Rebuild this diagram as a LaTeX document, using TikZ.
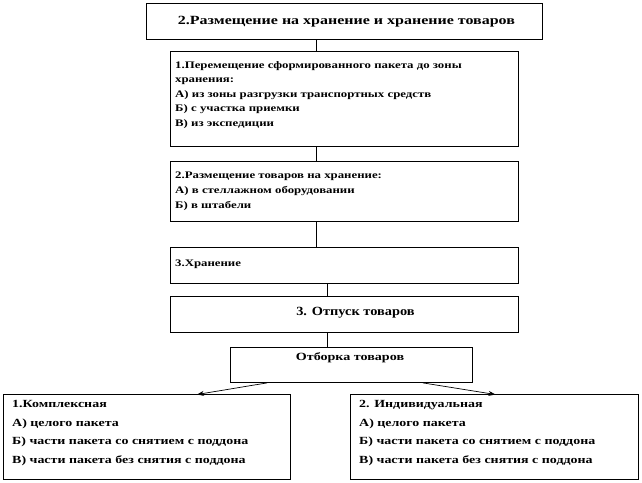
\documentclass[tikz,border=0pt]{standalone}
\usepackage{fontspec}
\setmainfont[FakeStretch=1.28]{Liberation Serif}
\newfontfamily\widerfont[FakeStretch=1.15]{Liberation Serif}
\usetikzlibrary{calc,arrows.meta}
\begin{document}
\begin{tikzpicture}[x=1pt,y=1pt,
  box/.style={draw=black, line width=0.9pt, rectangle, inner sep=0pt, anchor=north west},
  txt/.style={inner sep=0pt, anchor=north west, align=left, font=\bfseries\fontsize{10}{14.6}\selectfont},
  bigtxt/.style={inner sep=0pt, anchor=center, font=\bfseries\fontsize{12.5}{15}\selectfont},
  line/.style={draw=black, line width=0.7pt},
  arr/.style={draw=black, line width=0.7pt, -{Stealth[length=7pt,width=5pt]}}]
\useasboundingbox (0,0) rectangle (642,-482);
\fill[white] (0,0) rectangle (642,-482);
% boxes
\node[box, minimum width=396, minimum height=36] (b1) at (146,-3) {};
\node[bigtxt] (t1) at ($(b1.center)+(2,0)$) {2.Размещение на хранение и хранение товаров};
\node[box, minimum width=348, minimum height=95] (b2) at (170,-51) {};
\node[txt] (t2) at (175,-61) {1.Перемещение сформированного пакета до зоны\\хранения:\\А) из зоны разгрузки транспортных  средств\\Б) с участка приемки\\В) из экспедиции};
\node[box, minimum width=348, minimum height=60] (b3) at (170,-161) {};
\node[txt, font=\bfseries\fontsize{10}{15}\selectfont] (t3) at (175,-172) {2.Размещение товаров на хранение:\\А) в стеллажном оборудовании\\Б) в штабели};
\node[box, minimum width=348, minimum height=36] (b4) at (170,-247) {};
\node[txt, anchor=west] (t4) at (175,-264) {3.Хранение};
\node[box, minimum width=348, minimum height=36] (b5) at (170,-296) {};
\node[bigtxt, font=\widerfont\bfseries\fontsize{12.5}{15}\selectfont] (t5) at ($(b5.center)+(11,2)$) {3. Отпуск товаров};
\node[box, minimum width=242, minimum height=35] (b6) at (230,-347) {};
\node[txt, anchor=center, font=\bfseries\fontsize{11}{14}\selectfont] (t6) at (350,-358) {Отборка товаров};
\node[box, minimum width=287, minimum height=85] (b7) at (3,-394) {};
\node[txt, font=\bfseries\fontsize{10.9}{18.7}\selectfont] (t7) at (12,-400) {1.Комплексная\\А) целого пакета\\Б) части пакета со снятием с поддона\\В) части пакета без снятия с поддона};
\node[box, minimum width=288, minimum height=85] (b8) at (350,-394) {};
\node[txt, font=\bfseries\fontsize{10.9}{18.7}\selectfont] (t8) at (359,-400) {2. Индивидуальная\\А) целого пакета\\Б) части пакета со снятием с поддона\\В) части пакета без снятия с поддона};
% connectors
\draw[line] (b1.south -| 316,0) -- (b2.north -| 316,0);
\draw[line] (b2.south -| 316,0) -- (b3.north -| 316,0);
\draw[line] (b3.south -| 316,0) -- (b4.north -| 316,0);
\draw[line] (b4.south -| 327,0) -- (b5.north -| 327,0);
\draw[line] (b5.south -| 327,0) -- (b6.north -| 327,0);
\coordinate (a1) at (267,-382);
\coordinate (a2) at (423,-382);
\draw[arr] (b6.south -| a1) -- ($(b7.north)+(50,-0.5)$);
\draw[arr] (b6.south -| a2) -- ($(b8.north)+(1,-0.5)$);
\end{tikzpicture}
\end{document}
